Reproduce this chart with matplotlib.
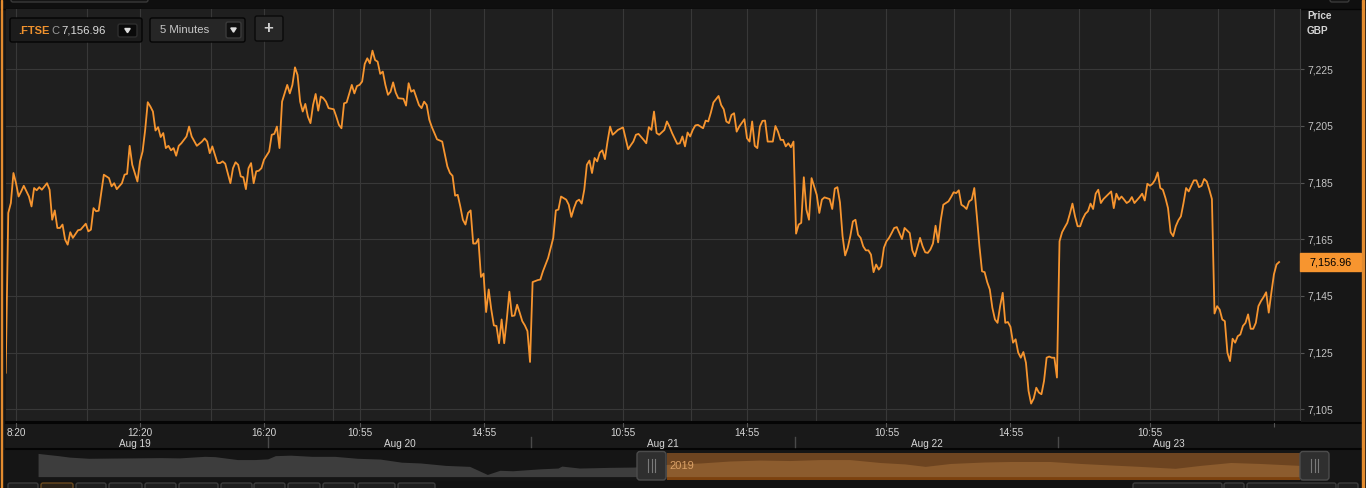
import matplotlib.pyplot as plt
import matplotlib.transforms as mtransforms
from matplotlib.patches import Rectangle, FancyBboxPatch, Polygon
from matplotlib.ticker import FuncFormatter

plt.rcParams["font.family"] = ["Liberation Sans", "DejaVu Sans"]

# .FTSE 5-minute closes, (bar in session, price); a session is 102 bars from 08:00
aug19 = [(0, 7117.9), (1, 7174.3), (2, 7177.8), (3, 7188.4), (4, 7184.8), (5, 7180.1), (6, 7181.9),
         (7, 7183.9), (9, 7180.1), (10, 7176.6), (11, 7183.1), (12, 7182.3), (13, 7183.4), (14, 7182.5),
         (16, 7184.8), (17, 7182.5), (18, 7171.9), (19, 7175.2), (20, 7169.0), (21, 7169.0), (22, 7170.2),
         (23, 7164.9), (24, 7163.1), (25, 7167.5), (26, 7165.5), (28, 7168.2), (29, 7168.4), (31, 7170.5),
         (32, 7167.8), (33, 7168.4), (34, 7176.0), (35, 7174.9), (36, 7175.1), (38, 7187.8), (40, 7186.6),
         (41, 7183.7), (42, 7184.8), (43, 7182.7), (45, 7184.8), (46, 7187.8), (47, 7188.1), (48, 7198.0),
         (49, 7191.3), (51, 7185.4), (52, 7192.5), (53, 7196.0), (54, 7203.6), (55, 7213.4), (56, 7211.9),
         (57, 7210.1), (58, 7203.4), (59, 7204.6), (60, 7201.1), (61, 7202.5), (62, 7197.2), (63, 7198.0),
         (64, 7196.4), (65, 7197.2), (66, 7194.5), (67, 7198.0), (68, 7198.9), (70, 7201.3), (71, 7204.8),
         (72, 7201.3), (74, 7198.0), (76, 7199.5), (77, 7200.6), (78, 7199.5), (79, 7195.4), (80, 7197.8),
         (82, 7191.9), (83, 7191.9), (84, 7192.5), (85, 7191.7), (87, 7184.8), (88, 7190.1), (89, 7192.2),
         (90, 7191.3), (91, 7187.2), (92, 7186.9), (93, 7182.7), (94, 7190.1), (95, 7191.9), (96, 7184.8),
         (97, 7189.0), (98, 7189.2), (99, 7190.1), (100, 7193.1)]
aug20 = [(0, 7196.0), (1, 7201.9), (2, 7202.2), (3, 7204.8), (4, 7197.2), (5, 7213.6), (6, 7216.5),
         (7, 7219.5), (8, 7216.5), (9, 7219.5), (10, 7225.7), (11, 7223.0), (12, 7213.6), (13, 7210.1),
         (14, 7212.8), (15, 7208.3), (16, 7206.0), (17, 7212.4), (18, 7216.3), (19, 7210.4), (20, 7215.4),
         (21, 7214.8), (22, 7213.6), (23, 7211.3), (25, 7210.9), (26, 7208.3), (27, 7205.4), (28, 7204.2),
         (29, 7213.0), (30, 7213.3), (32, 7219.5), (33, 7216.5), (34, 7219.1), (35, 7219.5), (36, 7220.7),
         (37, 7226.9), (38, 7228.9), (39, 7227.1), (40, 7231.6), (41, 7228.3), (42, 7227.7), (43, 7223.4),
         (44, 7224.2), (45, 7219.5), (46, 7216.0), (47, 7217.1), (48, 7220.4), (49, 7216.8), (50, 7214.8),
         (52, 7214.6), (53, 7212.2), (54, 7220.1), (55, 7217.1), (56, 7217.7), (58, 7212.4), (59, 7211.3),
         (60, 7213.6), (61, 7212.4), (62, 7207.2), (63, 7204.6), (65, 7200.3), (67, 7199.5), (69, 7190.7),
         (70, 7188.4), (71, 7187.4), (72, 7180.4), (73, 7180.7), (74, 7176.6), (75, 7171.9), (76, 7170.2),
         (77, 7174.3), (78, 7175.2), (79, 7163.5), (80, 7163.5), (81, 7165.1), (82, 7151.7), (83, 7152.9),
         (84, 7139.3), (85, 7147.3), (86, 7140.2), (87, 7134.6), (88, 7134.4), (89, 7128.3), (90, 7136.7),
         (91, 7128.3), (92, 7136.7), (93, 7146.5), (94, 7137.9), (95, 7138.1), (96, 7141.9), (97, 7139.1),
         (98, 7136.1), (99, 7134.6), (100, 7132.6), (101, 7121.7)]
aug21 = [(0, 7149.9), (2, 7150.6), (3, 7150.8), (4, 7153.7), (5, 7156.1), (6, 7158.4), (7, 7162.0),
         (8, 7165.5), (9, 7175.2), (10, 7175.5), (11, 7180.1), (13, 7179.0), (14, 7177.2), (15, 7172.9),
         (16, 7176.0), (17, 7178.4), (18, 7179.0), (19, 7177.6), (20, 7182.5), (21, 7191.3), (22, 7192.8),
         (23, 7188.4), (24, 7193.7), (25, 7192.5), (26, 7195.6), (27, 7196.4), (28, 7193.3), (29, 7199.5),
         (30, 7204.8), (31, 7201.9), (32, 7202.7), (33, 7203.6), (35, 7204.5), (36, 7200.7), (37, 7196.8),
         (38, 7198.2), (39, 7199.5), (40, 7201.9), (41, 7202.2), (43, 7200.1), (44, 7198.9), (45, 7204.6),
         (46, 7203.6), (47, 7210.1), (48, 7202.5), (49, 7201.9), (51, 7203.6), (52, 7206.6), (53, 7204.8),
         (54, 7202.5), (56, 7198.7), (57, 7198.9), (58, 7201.3), (59, 7197.8), (60, 7202.7), (61, 7201.3),
         (62, 7203.6), (63, 7205.2), (64, 7205.4), (66, 7204.2), (67, 7206.9), (68, 7206.6), (69, 7209.7),
         (70, 7213.3), (72, 7215.6), (73, 7212.4), (74, 7210.9), (75, 7206.6), (76, 7206.0), (77, 7208.9),
         (78, 7209.5), (79, 7203.0), (80, 7204.8), (82, 7207.4), (83, 7200.7), (84, 7199.5), (85, 7206.6),
         (86, 7198.0), (87, 7197.2), (88, 7204.8), (89, 7206.8), (90, 7206.9), (91, 7199.5), (93, 7199.5),
         (94, 7205.0), (95, 7203.0), (96, 7200.1), (97, 7200.1), (98, 7197.8), (99, 7198.9), (100, 7197.5),
         (101, 7199.5)]
aug22 = [(0, 7167.0), (1, 7170.2), (2, 7170.8), (3, 7186.9), (4, 7175.5), (5, 7171.9), (6, 7186.6),
         (8, 7180.7), (9, 7174.3), (10, 7179.0), (11, 7179.8), (13, 7179.2), (14, 7175.7), (15, 7182.9),
         (16, 7183.4), (17, 7178.0), (18, 7166.1), (19, 7159.3), (20, 7162.0), (21, 7166.1), (22, 7171.3),
         (23, 7171.9), (24, 7166.6), (25, 7165.5), (26, 7162.5), (27, 7161.1), (28, 7161.1), (29, 7159.6),
         (30, 7153.4), (31, 7156.1), (32, 7154.3), (33, 7155.5), (34, 7162.0), (35, 7164.3), (36, 7165.5),
         (37, 7167.2), (38, 7169.0), (39, 7169.3), (41, 7165.1), (42, 7169.0), (44, 7167.2), (45, 7161.1),
         (46, 7159.0), (48, 7165.5), (49, 7162.5), (50, 7160.4), (51, 7160.2), (52, 7161.4), (53, 7163.5),
         (54, 7169.8), (55, 7163.9), (56, 7171.7), (57, 7177.2), (59, 7178.4), (60, 7179.9), (61, 7181.6),
         (62, 7181.3), (63, 7182.3), (64, 7177.2), (65, 7176.6), (66, 7175.7), (67, 7178.4), (68, 7179.0),
         (69, 7183.1), (70, 7173.1), (71, 7162.5), (72, 7153.7), (73, 7153.4), (74, 7149.9), (75, 7147.3),
         (76, 7140.8), (77, 7136.7), (78, 7135.5), (79, 7141.4), (80, 7146.1), (81, 7135.5), (82, 7135.8),
         (83, 7134.1), (84, 7128.5), (85, 7129.7), (86, 7125.0), (87, 7123.2), (88, 7125.2), (89, 7121.4),
         (90, 7111.5), (91, 7107.0), (92, 7108.8), (93, 7112.6), (94, 7110.9), (95, 7110.3), (96, 7115.0),
         (97, 7123.2), (98, 7123.6), (99, 7123.2), (100, 7123.2), (101, 7116.2)]
aug23 = [(0, 7164.3), (1, 7167.5), (2, 7169.2), (3, 7170.8), (4, 7174.0), (5, 7177.6), (6, 7173.1),
         (7, 7169.6), (8, 7169.6), (9, 7172.2), (10, 7174.0), (11, 7174.9), (12, 7177.6), (13, 7175.7),
         (14, 7181.1), (15, 7182.5), (16, 7177.8), (17, 7179.2), (18, 7180.1), (20, 7181.9), (21, 7176.0),
         (22, 7181.1), (23, 7179.0), (24, 7180.1), (25, 7179.0), (26, 7177.8), (27, 7178.4), (28, 7179.9),
         (29, 7177.8), (31, 7179.9), (32, 7181.1), (33, 7178.7), (34, 7184.6), (35, 7183.9), (36, 7184.6),
         (37, 7186.0), (38, 7188.6), (39, 7183.1), (40, 7182.5), (41, 7179.6), (42, 7176.0), (43, 7167.5),
         (44, 7166.1), (45, 7169.6), (46, 7171.7), (47, 7173.1), (48, 7177.8), (49, 7183.1), (50, 7181.9),
         (51, 7183.9), (52, 7185.8), (53, 7185.8), (54, 7183.4), (55, 7183.9), (56, 7186.3), (57, 7185.4),
         (58, 7182.5), (59, 7179.2), (60, 7138.8), (61, 7141.4), (62, 7140.2), (63, 7136.7), (64, 7136.1),
         (65, 7125.0), (66, 7122.0), (67, 7129.9), (68, 7128.5), (69, 7130.8), (70, 7131.4), (71, 7134.4),
         (72, 7135.5), (73, 7138.5), (74, 7133.4), (75, 7133.4), (76, 7135.5), (77, 7141.4), (78, 7143.2),
         (79, 7144.6), (80, 7146.3), (81, 7139.1), (82, 7146.1), (83, 7152.6), (84, 7156.1), (85, 7156.96)]

sessions = [aug19, aug20, aug21, aug22, aug23]
day_labels = ["Aug 19", "Aug 20", "Aug 21", "Aug 22", "Aug 23"]
bars_per_day = 102
last_price = 7156.96

price_ticks = [7105, 7125, 7145, 7165, 7185, 7205, 7225]
tick_day = [0, 0, 0, 1, 1, 2, 2, 3, 3, 4, 4]
tick_time = ["08:20", "12:20", "16:20", "10:55", "14:55", "10:55", "14:55", "10:55", "14:55", "10:55", "14:55"]
tick_text = ["8:20", "12:20", "16:20", "10:55", "14:55", "10:55", "14:55", "10:55", "14:55", "10:55", ""]
grid_bars = [31.5, 79.5, 126.7, 164.3, 211.5, 265.3, 313.7, 367.1, 415.5, 469.3]

# navigator overview (percent of history, relative level)
nav_pos = [0, 0.55, 1.6, 2.5, 4.0, 5.7, 7.6, 9.7, 11.2, 13.2, 14.0, 15.8, 17.2, 18.2, 18.8, 20.0, 21.7,
           23.5, 25.3, 27.1, 28.8, 30.3, 32.3, 34.2, 35.6, 36.6, 37.6, 39.8, 41.2, 41.5, 42.9, 45.3, 47.2,
           49.8, 52.5, 54.8, 57.2, 59.6, 62.0, 64.3, 66.7, 68.7, 70.3, 72.3, 75.0, 77.0, 80.2, 82.6, 84.9,
           87.3, 90.1, 92.1, 94.5, 96.8, 100.0]
nav_level = [27.3, 26.5, 25, 23.5, 22.3, 22.5, 22.7, 23, 22.7, 24.3, 24, 21, 21, 21.7, 25, 25.5, 24.3,
             24.3, 22.3, 21.5, 18.3, 17.5, 15, 14, 5.7, 10, 9.5, 11.5, 12.3, 14.3, 12.3, 13, 13.3,
             16, 17.5, 19.5, 20.5, 20, 21, 21, 18, 16.5, 14, 17, 18.5, 19, 19, 17, 15.5,
             14, 12, 15, 18, 17, 15]
nav_sel = (49.8, 100.0)
nav_year = "2019"

W, H = 1366, 488


def box(x0, y0, x1, y1):
    return [x0 / W, 1 - y1 / H, (x1 - x0) / W, (y1 - y0) / H]


def to_bar(day, hhmm):
    h, m = map(int, hhmm.split(":"))
    return day * bars_per_day + (h * 60 + m - 480) / 5


xs, ys = [], []
for d, sess in enumerate(sessions):
    for b, p in sess:
        xs.append(d * bars_per_day + b)
        ys.append(p)

fig = plt.figure(figsize=(W / 100, H / 100), dpi=100)
fig.patch.set_facecolor("#151515")

# background / frame in pixel coordinates
bg = fig.add_axes([0, 0, 1, 1], zorder=0)
bg.set_xlim(0, W)
bg.set_ylim(H, 0)
bg.axis("off")
bg.add_patch(Rectangle((0, 0), W, 9, color="#0f0f0f"))
bg.add_patch(Rectangle((1300, 9), 61, 413, color="#171717"))
bg.add_patch(Rectangle((6, 422), 1355, 27, color="#191919"))
bg.add_patch(Rectangle((0, 481), W, 7, color="#121212"))
bg.plot([6, 1361], [422.5, 422.5], color="#050505", lw=1.5)
bg.plot([6, 1361], [449, 449], color="#050505", lw=1.5)
bg.plot([0, W], [8.5, 8.5], color="#050505", lw=1)

# main price chart
ax = fig.add_axes(box(6, 9, 1300, 422), zorder=2)
ax.set_facecolor("#1f1f1f")
ax.plot(xs, ys, color="#f7952f", lw=1.3, solid_joinstyle="round")
ax.set_xlim(0.12, 501.1)
ax.set_ylim(7100.5, 7246.3)

major = [to_bar(d, t) for d, t in zip(tick_day, tick_time)]
ax.set_xticks(major)
ax.set_xticklabels(tick_text)
ax.set_xticks(grid_bars, minor=True)
ax.tick_params(axis="x", which="major", length=3.6, width=0.8, color="#555555", pad=0.5,
               labelsize=7.2, labelcolor="#d6d6d6")
ax.tick_params(axis="x", which="minor", length=0)
ax.set_yticks(price_ticks)
ax.yaxis.set_major_formatter(FuncFormatter(lambda v, p: "{:,.0f}".format(v)))
ax.yaxis.tick_right()
ax.tick_params(axis="y", length=3, width=0.8, color="#555555", pad=2.2, labelsize=7.4,
               labelcolor="#c4c4c4")
ax.grid(which="both", color="#383838", lw=0.8)
ax.set_axisbelow(True)
for s in ["top", "left"]:
    ax.spines[s].set_visible(False)
ax.spines["right"].set_color("#3c3c3c")
ax.spines["bottom"].set_color("#050505")
ax.spines["bottom"].set_linewidth(1.5)

# day names and session separators below the time labels
fig_y = mtransforms.blended_transform_factory(ax.transData, fig.transFigure)
for d, sess in enumerate(sessions):
    first = d * bars_per_day + sess[0][0]
    last = d * bars_per_day + sess[-1][0]
    ax.text((first + last) / 2, 1 - 443.7 / H, day_labels[d], transform=fig_y, ha="center",
            va="center", fontsize=7.2, color="#d6d6d6")
    if d > 0:
        ax.plot([d * bars_per_day - 0.5] * 2, [1 - 437 / H, 1 - 447 / H], transform=fig_y,
                color="#4a4a4a", lw=1, clip_on=False)

# last price tag on the price axis
tag_t = mtransforms.blended_transform_factory(ax.transAxes, ax.transData)
ax.add_patch(Rectangle((1.0, last_price - 3.2), 61 / 1294, 6.4, transform=tag_t,
                       color="#f7952f", clip_on=False, zorder=5))
ax.text(1.0 + 30.5 / 1294, last_price, "{:,.2f}".format(last_price), transform=tag_t,
        ha="center", va="center", fontsize=7.8, color="#000000", zorder=6)

# navigator strip
nav = fig.add_axes(box(6, 449.8, 1361, 481), zorder=2)
nav.set_facecolor("#1b1b1b")
nav.set_xlim(-2.54, 104.83)
nav.set_ylim(-1, 31)
nav.axis("off")
left = [i for i, p in enumerate(nav_pos) if p <= nav_sel[0]]
right = [i for i, p in enumerate(nav_pos) if p >= nav_sel[0]]
nav.fill_between([nav_pos[i] for i in left], 3.5, [nav_level[i] for i in left],
                 color="#3d3d3d", lw=0)
nav.add_patch(Rectangle((nav_sel[0], 0), nav_sel[1] - nav_sel[0], 28, color="#6d4420", lw=0))
nav.add_patch(Rectangle((nav_sel[0], 0), nav_sel[1] - nav_sel[0], 3.5, color="#7c420f", lw=0))
nav.fill_between([nav_pos[i] for i in right], 3.5, [nav_level[i] for i in right],
                 color="#8c5c2e", lw=0)
nav.text(nav_sel[0] + 0.2, 14.5, nav_year, ha="left", va="center", fontsize=8, color="#d9a066")

# foreground widgets in pixel coordinates
fg = fig.add_axes([0, 0, 1, 1], zorder=4)
fg.set_xlim(0, W)
fg.set_ylim(H, 0)
fg.axis("off")
fg.patch.set_alpha(0)


def rbox(x0, y0, x1, y1, fc, ec, r=2, lw=1):
    fg.add_patch(FancyBboxPatch((x0, y0), x1 - x0, y1 - y0,
                                boxstyle="round,pad=0,rounding_size=%g" % r,
                                fc=fc, ec=ec, lw=lw, clip_on=False))


def tri(cx, cy):
    fg.add_patch(Polygon([(cx - 2.7, cy - 2), (cx + 2.7, cy - 2), (cx, cy + 2.2)], color="#dddddd"))


# header
rbox(11, -6, 148, 2, "#151515", "#3a3a3a")
rbox(1330, -6, 1349, 2, "#151515", "#3a3a3a")
rbox(10, 18, 142, 42, "#1c1c1c", "#050505")
fg.text(18, 30.5, ".FTSE", fontsize=8, color="#f0922e", va="center", fontweight="bold")
fg.text(51, 30.5, "C", fontsize=8, color="#9a9a9a", va="center")
fg.text(61.5, 30.5, "7,156.96", fontsize=8.2, color="#dddddd", va="center")
rbox(118, 24, 137, 37, "#0a0a0a", "#2e2e2e")
tri(127.5, 30.5)
rbox(150, 18, 245, 42, "#262626", "#050505")
fg.text(160, 30, "5 Minutes", fontsize=8.2, color="#c8c8c8", va="center")
rbox(226, 22, 241, 38, "#101010", "#3a3a3a")
tri(233.5, 30)
rbox(255, 16, 283, 41, "#272727", "#0a0a0a")
fg.text(268.5, 28, "+", fontsize=12, color="#cfcfcf", ha="center", va="center", fontweight="bold")

# price axis caption
fg.text(1307, 16, "Price", fontsize=7.2, color="#d4d4d4", va="center", fontweight="bold")
fg.text(1307, 30.5, "GBP", fontsize=7.2, color="#d4d4d4", va="center", fontweight="bold")

# navigator handles
for hx in [637, 1300]:
    rbox(hx, 451.5, hx + 29, 480, "#2f2f2f", "#4c4c4c", r=3)
    for lx in [hx + 11, hx + 14.5, hx + 18]:
        fg.plot([lx, lx], [459, 472], color="#7a7a7a", lw=0.8)

# toolbar buttons (cut off at the bottom edge)
for bx0, bx1 in [(8, 38), (76, 106), (109, 142), (145, 176), (179, 218), (221, 252), (254, 285),
                 (288, 320), (323, 355), (358, 395), (398, 435), (1133, 1222), (1224, 1244),
                 (1247, 1336), (1338, 1358)]:
    rbox(bx0, 483, bx1, 497, "#1e1e1e", "#3c3c3c")
rbox(41, 483, 73, 497, "#2a2116", "#6a4a20")

# orange window border
fg.add_patch(Rectangle((0.8, 0), 1.6, H, color="#e38b2f"))
fg.add_patch(Rectangle((1362, 0), 1.6, H, color="#e38b2f"))

fig.savefig("out.png", dpi=100, facecolor=fig.get_facecolor())
